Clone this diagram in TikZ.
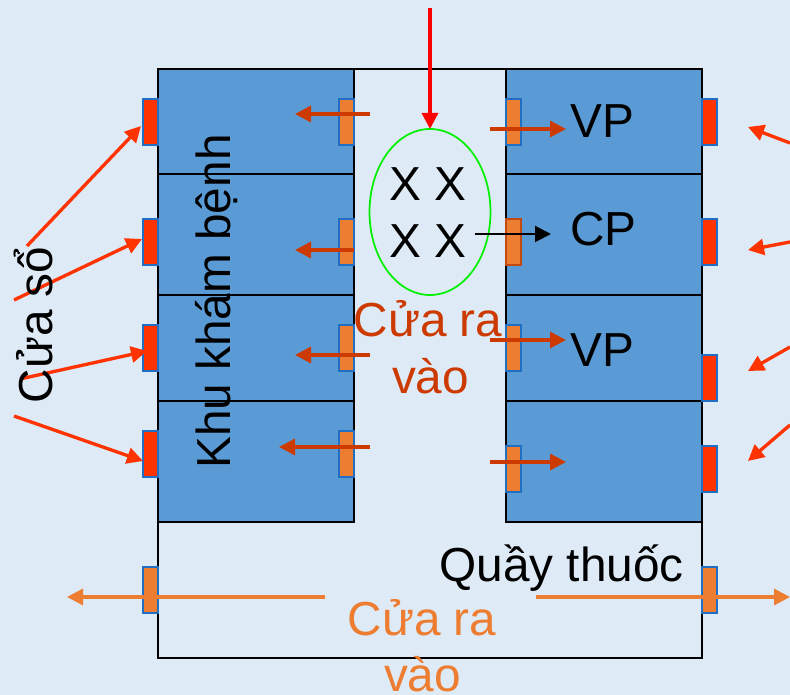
\documentclass[tikz,border=0pt]{standalone}
\usepackage{fontspec}
\setmainfont{Liberation Sans}
\usetikzlibrary{arrows.meta}
\definecolor{bgc}{HTML}{DEEAF6}
\definecolor{roomc}{HTML}{5B9BD5}
\definecolor{wedge}{HTML}{1F6FC4}
\definecolor{orangec}{HTML}{ED7D31}
\definecolor{redc}{HTML}{FF3300}
\definecolor{darkred}{HTML}{CC3A00}
\definecolor{brownedge}{HTML}{C04A10}
\definecolor{greenc}{RGB}{0,240,0}
\tikzset{
  room/.style={draw=black,line width=1.2pt,fill=roomc},
  redwin/.style={draw=wedge,line width=1.2pt,fill=redc},
  orwin/.style={draw=wedge,line width=1.2pt,fill=orangec},
  brwin/.style={draw=brownedge,line width=1.2pt,fill=orangec},
  tipline/.style={-{Triangle[length=12pt,width=12pt]},line width=2.5pt},
  winarrow/.style={tipline,draw=redc,fill=redc},
  doorarrow/.style={tipline,draw=darkred},
  exitarrow/.style={tipline,draw=orangec},
  blackarrow/.style={-{Triangle[length=12pt,width=12pt]},line width=1.5pt,draw=black},
  toparrow/.style={tipline,draw=red},
  txt/.style={font=\fontsize{35.8pt}{43pt}\selectfont,inner sep=0pt,anchor=base}
}
\begin{document}
\begin{tikzpicture}[x=0.75pt,y=-0.75pt]
\useasboundingbox (0,0) rectangle (790,695);
\fill[bgc] (0,0) rectangle (790,695);
% outer building
\draw[draw=black,line width=1.4pt] (158,69) rectangle (702,658);
% rooms
\foreach \n/\a/\b in {1/69/174,2/174/295,3/295/401,4/401/522}{
  \draw[room] (158,\a) rectangle (354,\b);
  \draw[room] (506,\a) rectangle (702,\b);
}
% windows
\foreach \a in {99,219,325,431}{
  \draw[redwin] (143,\a) rectangle ++(15,46);
  \draw[orwin] (339,\a) rectangle ++(15,46);
}
\foreach \a in {99,219,355,446}{
  \draw[redwin] (702,\a) rectangle ++(15,46);
}
\foreach \a in {99,325,446}{
  \draw[orwin] (506,\a) rectangle ++(15,46);
}
\draw[brwin] (506,219) rectangle ++(15,46);
\draw[orwin] (143,567) rectangle ++(15,46);
\draw[orwin] (702,567) rectangle ++(15,46);
% waiting ellipse
\draw[draw=greenc,line width=1.3pt] (430,212) ellipse [x radius=60.5,y radius=83];
% connector ends
\coordinate (top0) at (430,8);      \coordinate (top1) at (430,129);
\coordinate (w1a) at (27,246);      \coordinate (w1b) at (141,126);
\coordinate (w2a) at (14,300);      \coordinate (w2b) at (142,239);
\coordinate (w3a) at (20,379);      \coordinate (w3b) at (147,351);
\coordinate (w4a) at (14,416);      \coordinate (w4b) at (143,461);
\coordinate (e1a) at (790,143);     \coordinate (e1b) at (748,127);
\coordinate (e2a) at (790,242);     \coordinate (e2b) at (748,250);
\coordinate (e3a) at (790,347);     \coordinate (e3b) at (748,371);
\coordinate (e4a) at (790,425);     \coordinate (e4b) at (748,461);
\coordinate (l1a) at (370,114);     \coordinate (l1b) at (295,114);
\coordinate (l2a) at (354,250);     \coordinate (l2b) at (295,250);
\coordinate (l3a) at (370,355);     \coordinate (l3b) at (295,355);
\coordinate (l4a) at (370,447);     \coordinate (l4b) at (279,447);
\coordinate (r1a) at (490,129);     \coordinate (r1b) at (566,129);
\coordinate (r3a) at (490,340);     \coordinate (r3b) at (566,340);
\coordinate (r4a) at (490,462);     \coordinate (r4b) at (566,462);
\coordinate (c1a) at (475,234);     \coordinate (c1b) at (551,234);
\coordinate (x1a) at (325,597);     \coordinate (x1b) at (67,597);
\coordinate (x2a) at (536,597);     \coordinate (x2b) at (790,597);
% arrows
\draw[toparrow] (top0) -- (top1);
\foreach \p in {w1,w2,w3,w4,e1,e2,e3,e4}{\draw[winarrow] (\p a) -- (\p b);}
\foreach \p in {l1,l2,l3,l4,r1,r3,r4}{\draw[doorarrow] (\p a) -- (\p b);}
\draw[blackarrow] (c1a) -- (c1b);
\draw[exitarrow] (x1a) -- (x1b);
\draw[exitarrow] (x2a) -- (x2b);
% labels
\node[txt,rotate=90] (khu) at (230,301.5) {Khu khám bệnh};
\node[txt,rotate=90] (so) at (52,325) {Cửa sổ};
\node[txt] (vp1) at (602,138) {VP};
\node[txt] (cp) at (603.5,246) {CP};
\node[txt] (vp2) at (602,367) {VP};
\node[txt] (x1) at (428,201) {X X};
\node[txt] (x2) at (428,258) {X X};
\node[txt,text=darkred] (c1) at (428,337) {Cửa ra};
\node[txt,text=darkred] (c2) at (430.5,394) {vào};
\node[txt] (q) at (561.5,581) {Quầy thuốc};
\node[txt,text=orangec] (c3) at (422,635) {Cửa ra};
\node[txt,text=orangec] (c4) at (422.5,691) {vào};
\end{tikzpicture}
\end{document}
